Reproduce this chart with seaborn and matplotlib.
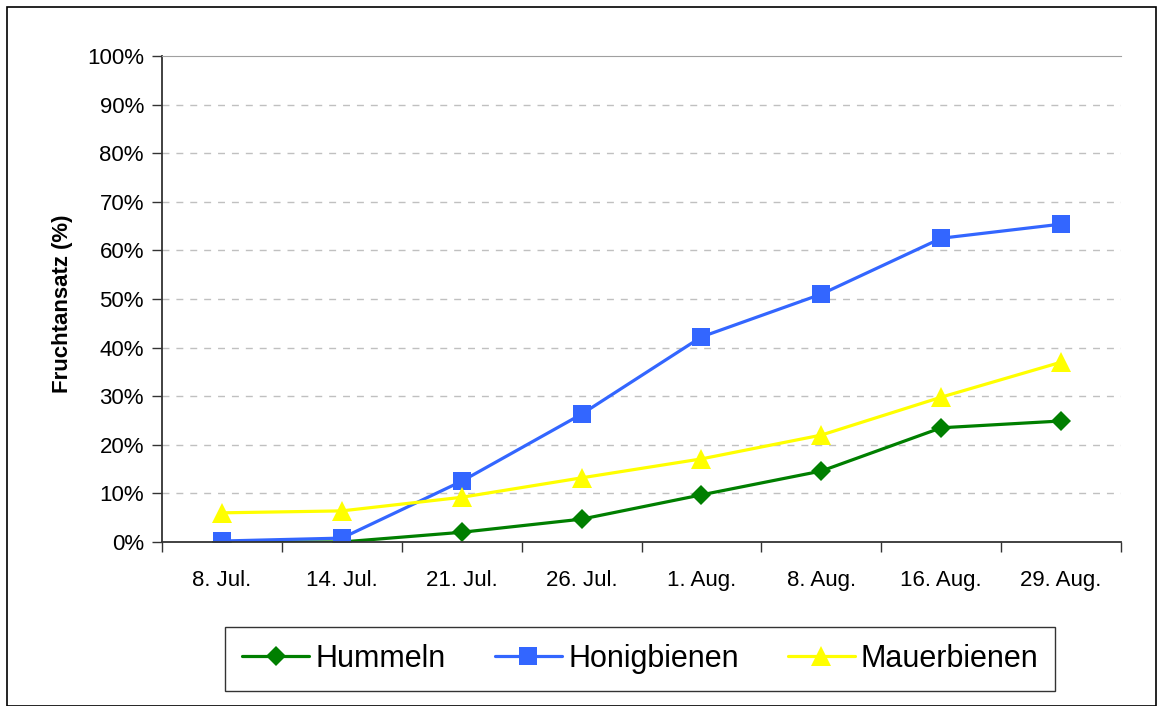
import pandas as pd
import seaborn as sns
import matplotlib.pyplot as plt
from matplotlib.patches import Rectangle
from matplotlib.ticker import FixedLocator, PercentFormatter

dates = ["8. Jul.", "14. Jul.", "21. Jul.", "26. Jul.", "1. Aug.", "8. Aug.", "16. Aug.", "29. Aug."]
hummeln = [0.0, 0.0, 2.0, 4.7, 9.7, 14.6, 23.5, 24.9]
honigbienen = [0.2, 0.8, 12.5, 26.3, 42.2, 51.0, 62.5, 65.4]
mauerbienen = [6.0, 6.4, 9.2, 13.2, 17.1, 22.0, 29.8, 37.0]

series = ["Hummeln", "Honigbienen", "Mauerbienen"]
colors = {"Hummeln": "#007F00", "Honigbienen": "#3366FF", "Mauerbienen": "#FFFF00"}
markers = {"Hummeln": "D", "Honigbienen": "s", "Mauerbienen": "^"}
msizes = {"Hummeln": 10, "Honigbienen": 13, "Mauerbienen": 15}

rows = []
for name, vals in zip(series, [hummeln, honigbienen, mauerbienen]):
    for i, v in enumerate(vals):
        rows.append({"pos": i, "value": v, "series": name})
df = pd.DataFrame(rows)

sns.set_style("white")
plt.rcParams["font.family"] = ["Liberation Sans", "DejaVu Sans"]
plt.rcParams["text.color"] = "black"
plt.rcParams["axes.labelcolor"] = "black"
plt.rcParams["xtick.color"] = "black"
plt.rcParams["ytick.color"] = "black"

fig = plt.figure(figsize=(11.63, 7.06), dpi=100)
ax = fig.add_axes([0.1393, 0.2323, 0.8246, 0.6884])

sns.lineplot(
    data=df, x="pos", y="value", hue="series", style="series",
    palette=colors, markers=markers, dashes=False,
    linewidth=2.3, markersize=13, markeredgewidth=0, ax=ax, legend=False
)
# marker sizes differ per shape in the original
for line in ax.lines:
    for s in series:
        if line.get_marker() == markers[s]:
            line.set_markersize(msizes[s])

ax.set_xlim(-0.5, len(dates) - 0.5)
ax.set_ylim(0, 100)
ax.set_yticks(range(0, 101, 10))
ax.yaxis.set_major_formatter(PercentFormatter(decimals=0))
ax.xaxis.set_major_locator(FixedLocator([i - 0.5 for i in range(len(dates) + 1)]))
ax.xaxis.set_minor_locator(FixedLocator(range(len(dates))))
ax.set_xticklabels([], minor=False)
ax.set_xticklabels(dates, minor=True)
ax.tick_params(axis="x", which="major", length=7, width=1, color="#333333", direction="out", bottom=True)
ax.tick_params(axis="x", which="minor", length=0, pad=20, labelsize=16, labelcolor="black")
ax.tick_params(axis="y", length=7, width=1, color="#333333", direction="out", left=True,
               labelsize=16, pad=6, labelcolor="black")

for y in range(10, 100, 10):
    ax.axhline(y, color="#C0C0C0", linestyle=(0, (5, 5)), linewidth=1, zorder=0)

ax.spines["left"].set_color("#333333")
ax.spines["bottom"].set_color("#333333")
ax.spines["left"].set_linewidth(1.3)
ax.spines["bottom"].set_linewidth(1.3)
ax.spines["top"].set_color("#A0A0A0")
ax.spines["right"].set_visible(False)

ax.set_xlabel("")
ax.set_ylabel("Fruchtansatz (%)", fontsize=16, fontweight="bold", color="black")
ax.yaxis.set_label_coords(-0.093, 0.49)

handles = [
    plt.Line2D([], [], color=colors[s], marker=markers[s], linewidth=2.3,
               markersize=msizes[s], markeredgewidth=0)
    for s in series
]
leg = fig.legend(handles, series, loc="center", bbox_to_anchor=(0.5507, 0.0666),
                 ncol=3, fontsize=22, frameon=True, fancybox=False, edgecolor="black",
                 handlelength=2.2, handletextpad=0.2, columnspacing=1.6,
                 borderpad=0.55, labelcolor="black")
leg.get_frame().set_linewidth(1)

fig.patches.append(Rectangle((0.006, 0.0), 0.988, 0.99, transform=fig.transFigure,
                             fill=False, edgecolor="black", linewidth=1.2))

fig.savefig("out.png", dpi=100)
